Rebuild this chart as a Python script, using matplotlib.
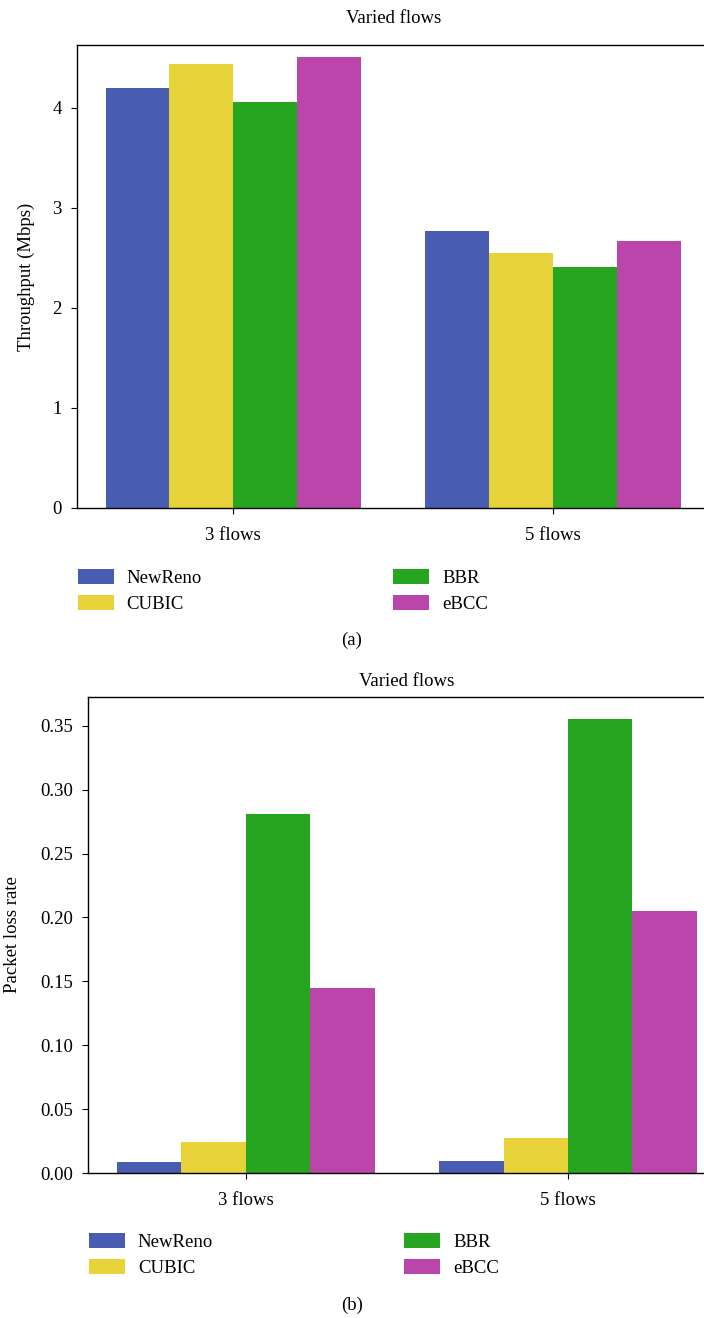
import numpy as np
import matplotlib

matplotlib.use("Agg")
import matplotlib.pyplot as plt

plt.rcParams["font.family"] = ["Liberation Serif", "DejaVu Serif"]
plt.rcParams["font.size"] = 13.5

groups = ["3 flows", "5 flows"]
algorithms = ["NewReno", "CUBIC", "BBR", "eBCC"]
colors = ["#485cb1", "#e8d23a", "#26a520", "#ba46ac"]

throughput = {
    "NewReno": [4.20, 2.77],
    "CUBIC": [4.44, 2.55],
    "BBR": [4.06, 2.41],
    "eBCC": [4.51, 2.67],
}
loss_rate = {
    "NewReno": [0.0086, 0.0094],
    "CUBIC": [0.024, 0.0275],
    "BBR": [0.281, 0.355],
    "eBCC": [0.145, 0.205],
}


def draw_panel(ax, data, ylabel, ylim, yticks, fmt, label_x, title_pad, legend_y):
    x = np.arange(len(groups))
    width = 0.2
    for i, (alg, col) in enumerate(zip(algorithms, colors)):
        ax.bar(x + (i - 1.5) * width, data[alg], width, color=col, label=alg)
    ax.set_xticks(x)
    ax.set_xticklabels(groups)
    ax.set_xlim(-0.49, 1.49)
    ax.set_ylim(*ylim)
    ax.set_yticks(yticks)
    ax.set_yticklabels([fmt.format(v) for v in yticks])
    ax.set_ylabel(ylabel)
    ax.yaxis.set_label_coords(label_x, 0.5)
    ax.set_title("Varied flows", fontsize=13.5, pad=title_pad)
    ax.spines["right"].set_visible(False)
    for s in ["left", "top", "bottom"]:
        ax.spines[s].set_linewidth(1.0)
    ax.tick_params(axis="both", length=4.3, width=0.8)
    ax.tick_params(axis="y", pad=6.5)
    ax.tick_params(axis="x", pad=9.5)
    ax.legend(loc="upper left", bbox_to_anchor=(-0.025, legend_y), ncol=2,
              frameon=False, handlelength=1.92, handleheight=0.85,
              handletextpad=0.69, columnspacing=10.2, labelspacing=0.45,
              fontsize=13.5)


fig = plt.figure(figsize=(7.04, 13.18), dpi=100)
ax1 = fig.add_axes([0.109, 0.6146, 0.899, 0.3513])
ax2 = fig.add_axes([0.125, 0.1100, 0.906, 0.3612])

draw_panel(ax1, throughput, "Throughput (Mbps)", (0, 4.63),
           [0, 1, 2, 3, 4], "{:.0f}", -0.0665, 16, -0.095)
draw_panel(ax2, loss_rate, "Packet loss rate", (0, 0.3725),
           [0, 0.05, 0.10, 0.15, 0.20, 0.25, 0.30, 0.35], "{:.2f}", -0.105, 8, -0.09)

fig.text(0.5, 1 - 640 / 1318, "(a)", ha="center", va="center", fontsize=13.5)
fig.text(0.5, 1 - 1305 / 1318, "(b)", ha="center", va="center", fontsize=13.5)

fig.savefig("out.png", dpi=100)
